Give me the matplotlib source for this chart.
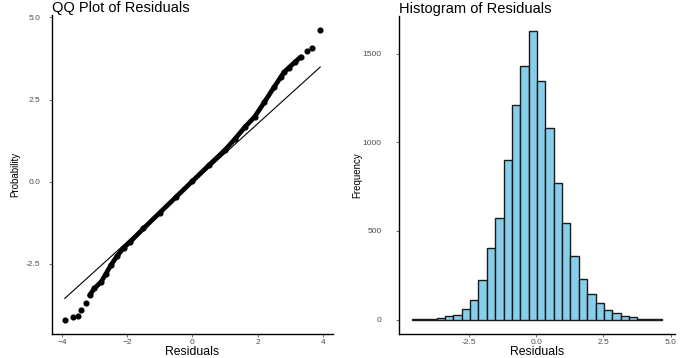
import matplotlib
matplotlib.use("Agg")
import matplotlib.pyplot as plt
import numpy as np

plt.rcParams['font.family'] = ['Liberation Sans', 'DejaVu Sans']

# QQ plot: theoretical quantiles vs sample residuals
qq_theo = [-3.91, -3.66, -3.51, -3.40, -3.25, -3.15, -3.00, -2.80, -2.65, -2.50,
           -2.30, -2.10, -1.90, -1.50, -1.00, -0.50, 0.00, 0.50, 1.00, 1.30,
           1.60, 1.90, 2.20, 2.50, 2.70, 2.80, 2.95, 3.15, 3.32, 3.51, 3.66, 3.91]
qq_sample = [-4.19, -4.11, -4.08, -3.90, -3.68, -3.45, -3.24, -3.05, -2.80, -2.54,
             -2.25, -2.00, -1.82, -1.42, -0.94, -0.46, 0.02, 0.50, 0.97, 1.30,
             1.66, 1.97, 2.42, 2.88, 3.18, 3.33, 3.47, 3.65, 3.80, 3.97, 4.08, 4.63]
qq_line_intercept = -0.03
qq_line_slope = 0.90

# histogram counts (30 bins)
hist_range = [-4.62, 4.69]
hist_counts = [1, 2, 4, 8, 20, 25, 62, 108, 225, 403, 571, 903, 1212, 1429, 1631,
               1347, 1083, 768, 543, 356, 230, 144, 94, 52, 37, 22, 17, 4, 1, 1]

qq_xticks = [-4, -2, 0, 2, 4]
qq_yticks = [-2.5, 0.0, 2.5, 5.0]
hist_xticks = [-2.5, 0.0, 2.5, 5.0]
hist_yticks = [0, 500, 1000, 1500]


def style_axes(ax, ypad):
    for side in ['top', 'right']:
        ax.spines[side].set_visible(False)
    for side in ['left', 'bottom']:
        ax.spines[side].set_linewidth(1.0)
        ax.spines[side].set_color('black')
    ax.tick_params(axis='both', colors='#555555', labelsize=6, length=2.5, width=0.6)
    ax.tick_params(axis='x', pad=1.0)
    ax.tick_params(axis='y', pad=ypad)
    for lab in ax.get_xticklabels() + ax.get_yticklabels():
        lab.set_color('#4d4d4d')


def add_labels(ax, title, xlabel, ylabel, ylab_x, height_px):
    # title sits just above the panel, flush with its left edge
    ax.text(0.0, 1 + 3.0 / height_px, title, transform=ax.transAxes,
            ha='left', va='baseline', fontsize=10.5, color='black')
    ax.set_xlabel(xlabel, fontsize=8.8)
    ax.xaxis.label.set_va('baseline')
    ax.xaxis.set_label_coords(0.5, -20.5 / height_px)
    ax.set_ylabel(ylabel, fontsize=7)
    ax.yaxis.label.set_va('center')
    ax.yaxis.set_label_coords(ylab_x, 0.5)


fig = plt.figure(figsize=(6.85, 3.58), dpi=100)
ax1 = fig.add_axes([0.0759, 0.067, 0.4102, 0.891])
ax2 = fig.add_axes([0.5825, 0.067, 0.4029, 0.888])

# QQ plot
theo = np.array(qq_theo)
samp = np.array(qq_sample)
ax1.plot(theo[5:-3], samp[5:-3], color='black', lw=3.4, solid_capstyle='round', zorder=2)
ax1.plot(theo, samp, 'o', color='black', markersize=3.4, zorder=3)
lx = np.array([theo.min(), theo.max()])
ax1.plot(lx, qq_line_intercept + qq_line_slope * lx, color='black', lw=0.8, zorder=4)
xr = theo.max() - theo.min()
yr = samp.max() - samp.min()
ax1.set_xlim(theo.min() - 0.05 * xr, theo.max() + 0.05 * xr)
ax1.set_ylim(samp.min() - 0.05 * yr, samp.max() + 0.05 * yr)
ax1.set_xticks(qq_xticks)
ax1.set_yticks(qq_yticks)
ax1.set_yticklabels([f"{v:.1f}" for v in qq_yticks])
style_axes(ax1, 6)
add_labels(ax1, "QQ Plot of Residuals", "Residuals", "Probability", -0.132, 319)

# histogram
edges = np.linspace(hist_range[0], hist_range[1], len(hist_counts) + 1)
width = edges[1] - edges[0]
ax2.bar(edges[:-1], hist_counts, width=width, align='edge', color='#87CEEB',
        edgecolor='#1a1a1a', linewidth=1.0)
hr = hist_range[1] - hist_range[0]
ax2.set_xlim(hist_range[0] - 0.05 * hr, hist_range[1] + 0.05 * hr)
ax2.set_ylim(-0.05 * max(hist_counts), 1.05 * max(hist_counts))
ax2.set_xticks(hist_xticks)
ax2.set_xticklabels([f"{v:.1f}" for v in hist_xticks])
ax2.set_yticks(hist_yticks)
style_axes(ax2, 10)
add_labels(ax2, "Histogram of Residuals", "Residuals", "Frequency", -0.152, 318)

fig.savefig("out.png", dpi=100)
